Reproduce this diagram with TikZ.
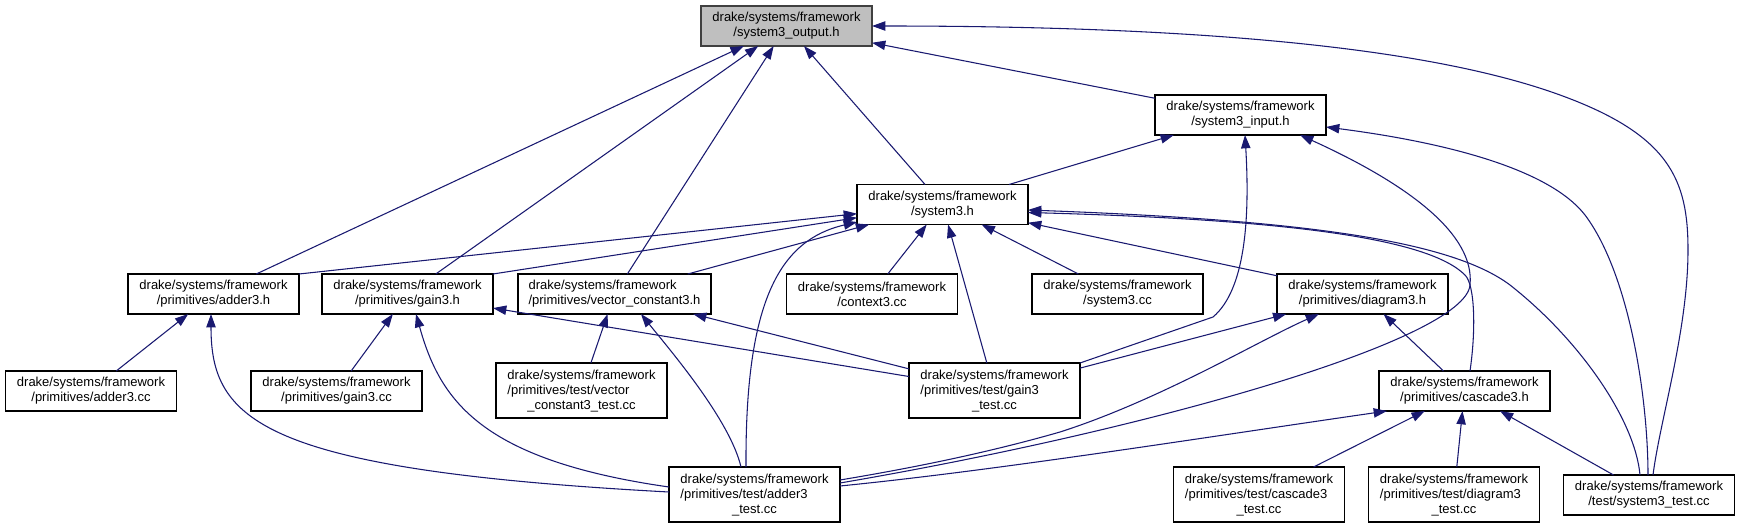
\documentclass[tikz,border=0pt]{standalone}
\usepackage{fontspec}
\setmainfont{Liberation Sans}
\usetikzlibrary{arrows.meta,calc}
\definecolor{edgeblue}{HTML}{191970}
\definecolor{rootgray}{HTML}{BFBFBF}
\newcommand\twolines[2]{\begin{tabular}[b]{@{}l@{}}#1\\#2\end{tabular}}
\begin{document}
\begin{tikzpicture}[x=0.75pt,y=-0.75pt,
  box/.style={draw=black, line width=0.9pt, fill=white, minimum width=128.25pt,
    minimum height=30pt, inner sep=0pt, outer sep=0pt, align=center,
    font=\fontsize{9.75}{11.25}\selectfont},
  tall/.style={minimum height=41.25pt},
  edge/.style={draw=edgeblue, line width=0.8pt, {Triangle[length=10pt,width=7pt]}-}]
\useasboundingbox (0,0) rectangle (1739,528);

% nodes
\node[box, fill=rootgray, draw=black!75] (out) at (786.5,26) {drake/systems/framework\\/system3\_output.h};
\node[box] (inp) at (1240.5,115) {drake/systems/framework\\/system3\_input.h};
\node[box] (sys) at (942.5,204.5) {drake/systems/framework\\/system3.h};
\node[box] (adh) at (213.5,294) {drake/systems/framework\\/primitives/adder3.h};
\node[box] (gah) at (407.5,294) {drake/systems/framework\\/primitives/gain3.h};
\node[box, minimum width=144.75pt, align=left] (vch) at (614.5,294) {drake/systems/framework\\/primitives/vector\_constant3.h};
\node[box] (ctx) at (872,294) {drake/systems/framework\\/context3.cc};
\node[box] (scc) at (1117.5,294) {drake/systems/framework\\/system3.cc};
\node[box] (dgh) at (1362.5,294) {drake/systems/framework\\/primitives/diagram3.h};
\node[box] (adc) at (91,391) {drake/systems/framework\\/primitives/adder3.cc};
\node[box] (gac) at (336.5,391) {drake/systems/framework\\/primitives/gain3.cc};
\node[box, tall] (vct) at (581.5,390.5) {\twolines{drake/systems/framework}{/primitives/test/vector}\\\_constant3\_test.cc};
\node[box, tall] (gat) at (994.5,390.5) {\twolines{drake/systems/framework}{/primitives/test/gain3}\\\_test.cc};
\node[box] (cah) at (1464.5,391) {drake/systems/framework\\/primitives/cascade3.h};
\node[box, tall] (adt) at (754.5,494.5) {\twolines{drake/systems/framework}{/primitives/test/adder3}\\\_test.cc};
\node[box, tall] (cat) at (1259,494.5) {\twolines{drake/systems/framework}{/primitives/test/cascade3}\\\_test.cc};
\node[box, tall] (dgt) at (1454,494.5) {\twolines{drake/systems/framework}{/primitives/test/diagram3}\\\_test.cc};
\node[box] (stt) at (1649,495) {drake/systems/framework\\/test/system3\_test.cc};

% straight edges
\draw[edge] (out) -- (inp);
\draw[edge] (out) -- (sys);
\draw[edge] (out) -- (adh);
\draw[edge] (out) -- (gah);
\draw[edge] (out) -- (vch);
\draw[edge] (inp) -- (sys);
\draw[edge] (sys) -- (adh.north east);
\draw[edge] (sys) -- (gah.north east);
\draw[edge] (sys) -- (vch);
\draw[edge] (sys) -- (ctx);
\draw[edge] (sys) -- (gat);
\draw[edge] (sys) -- (scc);
\draw[edge] (sys) -- (dgh);
\draw[edge] (adh) -- (adc);
\draw[edge] (gah) -- (gac);
\draw[edge] (gah) -- (gat);
\draw[edge] (vch) -- (vct);
\draw[edge] (vch) -- (gat);
\draw[edge] (dgh) -- (gat);
\draw[edge] (dgh) -- (cah);
\draw[edge] (cah) -- (cat);
\draw[edge] (cah) -- (dgt);
\draw[edge] (cah) -- (stt);

% curved edges
\draw[edge] (out.east) .. controls (1250,26) and (1450,55) .. (1560,95)
  .. controls (1670,135) and (1688,180) .. (1688,250)
  .. controls (1688,330) and (1660,420) .. ($(stt.north)+(4,0)$);
\draw[edge] ($(inp.east)+(0,12)$) .. controls (1450,143) and (1550,170) .. (1585,215)
  .. controls (1630,275) and (1648,400) .. ($(stt.north)+(-1,0)$);
\draw[edge] ($(inp.south)+(59.5,0)$) .. controls (1410,185) and (1475,235) .. (1470,285)
  .. controls (1465,340) and (1150,430) .. ($(adt.east)+(0,-11.5)$);
\draw[edge] ($(inp.south)+(4.5,0)$) .. controls (1250,220) and (1245,290) .. (1213,317)
  -- (gat.north east);
\draw[edge] ($(sys.east)+(0,5.5)$) .. controls (1300,220) and (1450,240) .. (1510,285)
  .. controls (1580,340) and (1635,420) .. ($(stt.north)+(-9,0)$);
\draw[edge] ($(sys.east)+(0,8)$) .. controls (1300,220) and (1430,240) .. (1465,275)
  .. controls (1475,285) and (1476,330) .. ($(cah.north)+(5.5,0)$);
\draw[edge] ($(sys.west)+(0,17.5)$) .. controls (780,240) and (745,300) .. ($(adt.north)+(-8.5,0)$);
\draw[edge] ($(adh.south)+(-2.5,0)$) .. controls (211,420) and (260,470) .. ($(adt.west)+(0,-2.5)$);
\draw[edge] ($(gah.south)+(8.5,0)$) .. controls (440,400) and (480,460) .. ($(adt.west)+(0,-7.5)$);
\draw[edge] ($(vch.south)+(26.5,0)$) .. controls (670,350) and (730,420) .. ($(adt.north)+(-13.5,0)$);
\draw[edge] ($(dgh.south)+(-43.5,0)$) .. controls (1260,340) and (1160,400) .. (1060,432)
  .. controls (980,455) and (900,470) .. ($(adt.east)+(0,-14.5)$);
\draw[edge] ($(cah.south)+(-77.5,0)$) .. controls (1200,438) and (1000,470) .. ($(adt.east)+(0,-8.5)$);
\end{tikzpicture}
\end{document}
